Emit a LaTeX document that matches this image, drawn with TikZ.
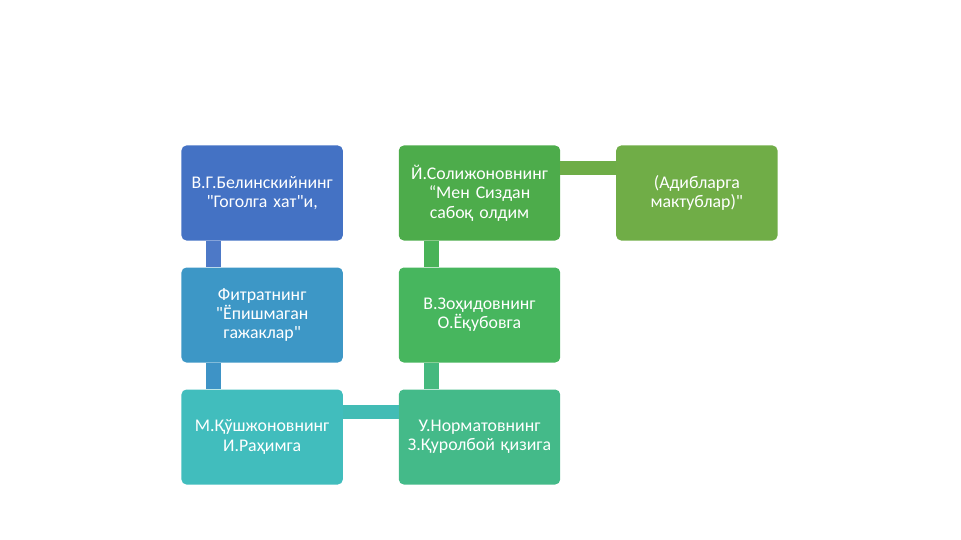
\documentclass[tikz,border=0pt]{standalone}
\usepackage{fontspec}
\setmainfont{Carlito}[Ligatures=TeXOff]
\usepackage{xcolor}
\usetikzlibrary{matrix}

\definecolor{stepA}{HTML}{4472C4}
\definecolor{stepB}{HTML}{3D97C6}
\definecolor{stepC}{HTML}{41BDBD}
\definecolor{stepD}{HTML}{44BA89}
\definecolor{stepE}{HTML}{47B65E}
\definecolor{stepF}{HTML}{4DAC4B}
\definecolor{stepG}{HTML}{70AD47}

\begin{document}
\begin{tikzpicture}[x=0.03cm,y=-0.03cm,
	stepbox/.style={rounded corners=0.15cm, text=white, align=center,
		minimum width=4.83cm, minimum height=2.85cm, inner sep=2pt, text width=4.7cm,
		font=\fontsize{15.2}{16.5}\selectfont}]
	\useasboundingbox (0,0) rectangle (961,540);
	
	\matrix (M) [inner sep=0pt, row sep=0.81cm, column sep=1.68cm] at (479.5,315) {
		\node[stepbox,fill=stepA] (belinskiy) {В.Г.Белинскийнинг\\"Гоголга хат"и,}; &
		\node[stepbox,fill=stepF] (solijonov) {Й.Солижоновнинг\\“Мен Сиздан\\сабоқ олдим}; &
		\node[stepbox,fill=stepG] (adiblar) {(Адибларга\\мактублар)"}; \\
		\node[stepbox,fill=stepB] (fitrat) {Фитратнинг\\"Ёпишмаган\\гажаклар"}; &
		\node[stepbox,fill=stepE] (zohidov) {В.Зоҳидовнинг\\О.Ёқубовга}; & \\
		\node[stepbox,fill=stepC] (qushjonov) {М.Қўшжоновнинг\\И.Раҳимга}; &
		\node[stepbox,fill=stepD] (normatov) {У.Норматовнинг\\З.Қуролбой қизига}; & \\
	};
	
	\fill[stepA!95!white] ([xshift=0.75cm]belinskiy.south west) rectangle ([xshift=1.2cm]fitrat.north west);
	\fill[stepB!90!stepA] ([xshift=0.75cm]fitrat.south west) rectangle ([xshift=1.2cm]qushjonov.north west);
	\fill[stepC!85!stepD] ([yshift=-0.48cm]qushjonov.north east) rectangle ([yshift=-0.9cm]normatov.north west);
	\fill[stepD!75!stepE] ([xshift=0.75cm]normatov.north west) rectangle ([xshift=1.2cm]zohidov.south west);
	\fill[stepE!70!stepF] ([xshift=0.75cm]zohidov.north west) rectangle ([xshift=1.2cm]solijonov.south west);
	\fill[stepG!95!stepF] ([yshift=-0.47cm]solijonov.north east) rectangle ([yshift=-0.89cm]adiblar.north west);
\end{tikzpicture}
\end{document}
